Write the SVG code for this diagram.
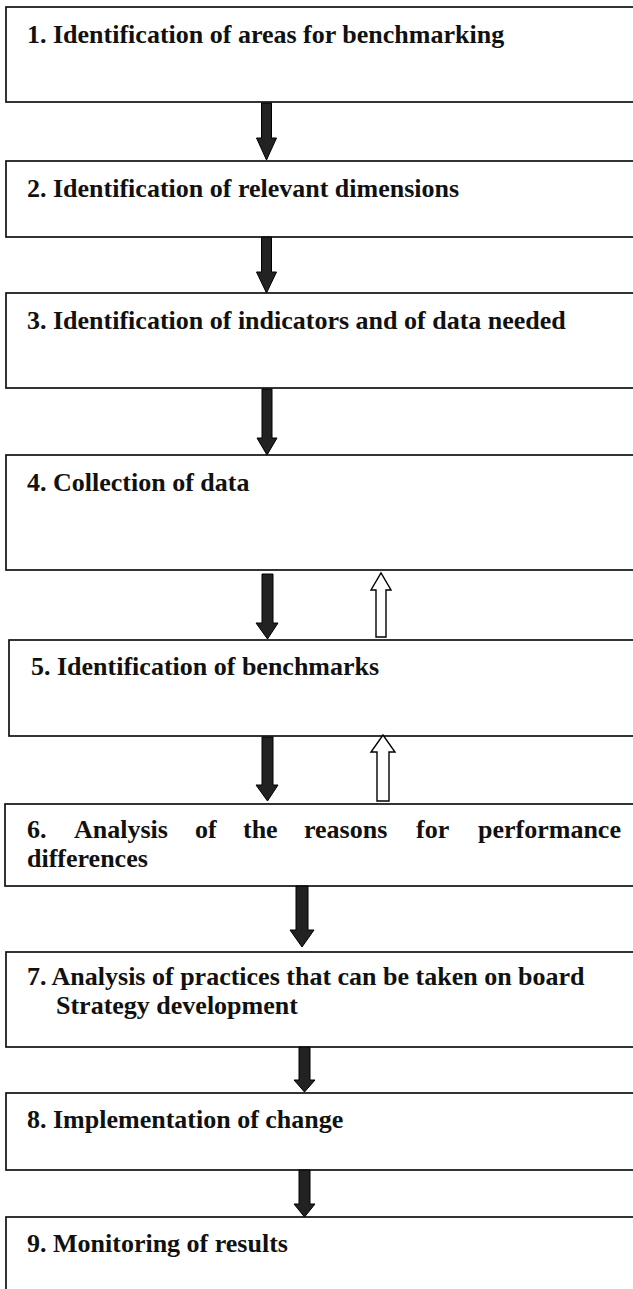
<svg xmlns="http://www.w3.org/2000/svg" width="633" height="1289" viewBox="0 0 633 1289">
  <style>
    .box { fill: #ffffff; stroke: #111111; stroke-width: 1.7; }
    .lbl { font-family: "Liberation Serif", "Times New Roman", serif; font-weight: bold; font-size: 26px; fill: #111111; }
    .down { fill: #222222; stroke: #000000; stroke-width: 1; }
    .up { fill: #ffffff; stroke: #000000; stroke-width: 1.4; }
  </style>
  <rect width="633" height="1289" fill="#ffffff"/>

  <g id="step1">
    <rect class="box" x="6" y="7" width="640" height="95"/>
    <text class="lbl" x="27" y="43">1. Identification of areas for benchmarking</text>
  </g>
  <g id="step2">
    <rect class="box" x="6" y="161" width="640" height="76"/>
    <text class="lbl" x="27" y="197">2. Identification of relevant dimensions</text>
  </g>
  <g id="step3">
    <rect class="box" x="6" y="293" width="640" height="95"/>
    <text class="lbl" x="27" y="329">3. Identification of indicators and of data needed</text>
  </g>
  <g id="step4">
    <rect class="box" x="6" y="455" width="640" height="115"/>
    <text class="lbl" x="27" y="491">4. Collection of data</text>
  </g>
  <g id="step5">
    <rect class="box" x="9" y="640" width="640" height="96"/>
    <text class="lbl" x="31" y="675">5. Identification of benchmarks</text>
  </g>
  <g id="step6">
    <rect class="box" x="5" y="804" width="640" height="82"/>
    <!-- justified first line: words placed individually -->
    <text class="lbl" y="838"><tspan x="27">6.</tspan><tspan x="74">Analysis</tspan><tspan x="195">of</tspan><tspan x="243">the</tspan><tspan x="304">reasons</tspan><tspan x="416">for</tspan><tspan x="478">performance</tspan></text>
    <text class="lbl" x="27" y="867">differences</text>
  </g>
  <g id="step7">
    <rect class="box" x="6" y="952" width="640" height="95"/>
    <text class="lbl" x="27" y="985">7. Analysis of practices that can be taken on board</text>
    <text class="lbl" x="56" y="1014">Strategy development</text>
  </g>
  <g id="step8">
    <rect class="box" x="6" y="1093" width="640" height="77"/>
    <text class="lbl" x="27" y="1128">8. Implementation of change</text>
  </g>
  <g id="step9">
    <rect class="box" x="6" y="1217" width="640" height="90"/>
    <text class="lbl" x="27" y="1252">9. Monitoring of results</text>
  </g>

  <g id="connectors">
    <!-- forward flow: solid block arrows pointing down -->
    <polygon class="down" points="261.5,103 271.5,103 271.5,138 276.5,138 266.5,160 256.5,138 261.5,138"/>
    <polygon class="down" points="261.5,237 271.5,237 271.5,272 276.5,272 266.5,293 256.5,272 261.5,272"/>
    <polygon class="down" points="262,389 272,389 272,438 277,438 267,455 257,438 262,438"/>
    <polygon class="down" points="262,574 273,574 273,623 278,623 267.5,639 256,623 262,623"/>
    <polygon class="down" points="262,737 273,737 273,785 278,785 267.5,801 256,785 262,785"/>
    <polygon class="down" points="296,886 308,886 308,930 314,930 302,947 290,930 296,930"/>
    <polygon class="down" points="299,1047 310,1047 310,1080 315,1080 304.5,1092 294,1080 299,1080"/>
    <polygon class="down" points="299,1170 310,1170 310,1204 315,1204 304.5,1217 294,1204 299,1204"/>
    <!-- feedback: hollow block arrows pointing up -->
    <polygon class="up" points="376,637 386,637 386,590 391,590 381,573 371,590 376,590"/>
    <polygon class="up" points="377,801 389,801 389,752 395,752 383,735 371,752 377,752"/>
  </g>
</svg>
